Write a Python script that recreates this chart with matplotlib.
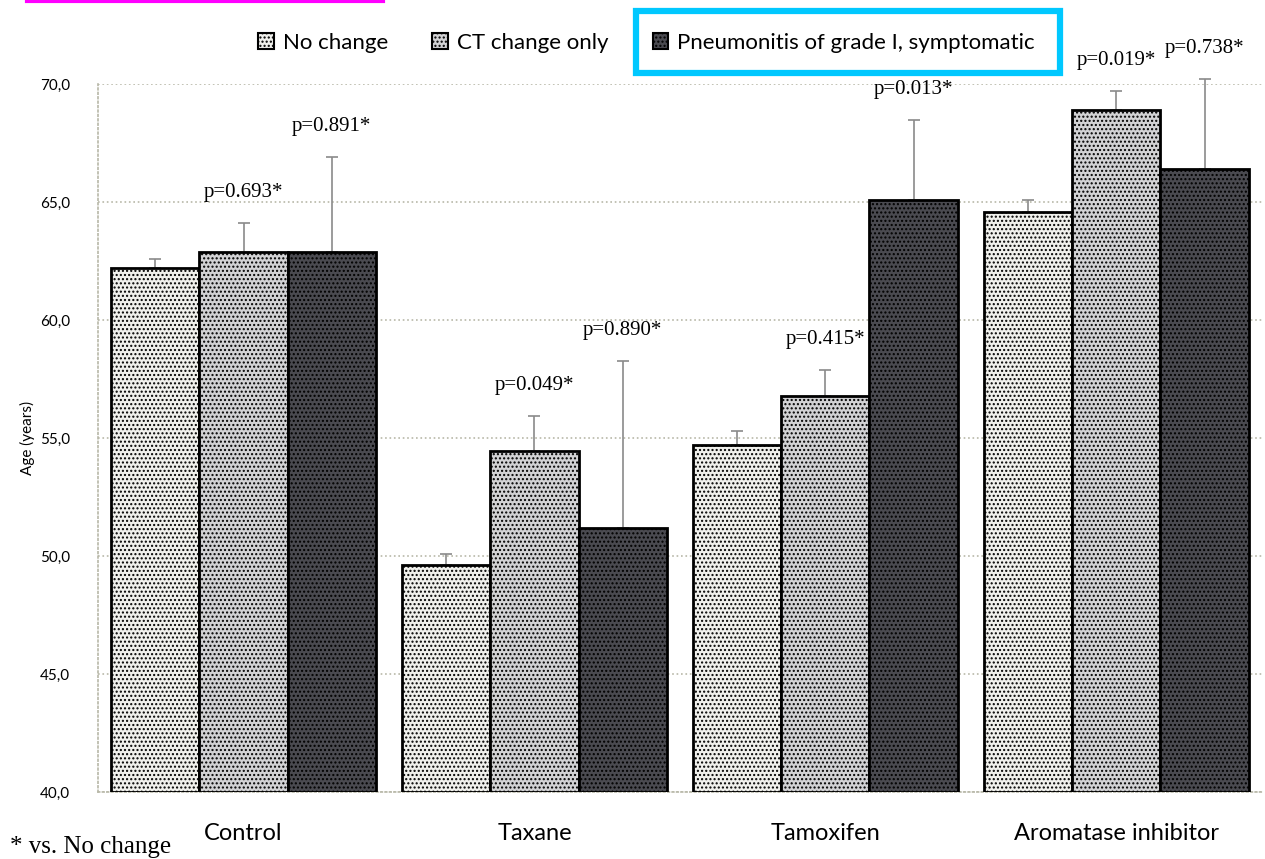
import numpy as np
import matplotlib.pyplot as plt
from matplotlib.patches import Patch, Rectangle
from matplotlib.lines import Line2D

# Du lieu: tuoi trung binh theo nhom dieu tri
groups = ['Control', 'Taxane', 'Tamoxifen', 'Aromatase inhibitor']
series = ['No change', 'CT change only', 'Pneumonitis of grade I, symptomatic']

no_change = [62.2, 49.6, 54.7, 64.6]
no_change_err = [0.4, 0.5, 0.6, 0.5]
ct_change = [62.9, 54.45, 56.8, 68.9]
ct_change_err = [1.2, 1.5, 1.1, 0.8]
pneumonitis = [62.9, 51.2, 65.1, 66.4]
pneumonitis_err = [4.0, 7.05, 3.4, 3.8]

p_ct = ['p=0.693*', 'p=0.049*', 'p=0.415*', 'p=0.019*']
p_pneu = ['p=0.891*', 'p=0.890*', 'p=0.013*', 'p=0.738*']

colors = ['#f0f0ec', '#d2d2d4', '#4a4a50']
hatch_colors = ['#d8d8c8', '#a8a8b0', '#2a2a30']

sans = ['Lato', 'DejaVu Sans']
serif = ['Liberation Serif', 'DejaVu Serif']

fig = plt.figure(figsize=(12.65, 8.59), dpi=100)
ax = fig.add_axes([0.0775, 0.078, 0.92, 0.824])

x = np.arange(len(groups))
w = 0.303
values = [no_change, ct_change, pneumonitis]
errs = [no_change_err, ct_change_err, pneumonitis_err]

for i in range(3):
    xi = x + (i - 1) * w
    plt.rcParams['hatch.color'] = hatch_colors[i]
    ax.bar(xi, np.array(values[i]) - 40, bottom=40, width=w, color=colors[i],
           edgecolor='black', linewidth=2, hatch='....', zorder=3)
    el = ax.errorbar(xi, values[i], yerr=[np.zeros(4), errs[i]], fmt='none',
                     ecolor='#8a8a8a', elinewidth=1.2, capsize=4, capthick=1.2, zorder=2)
    for art in el.get_children():
        art.set_clip_on(False)

# nhan p-value tren dau thanh sai so
for j in range(len(groups)):
    ax.annotate(p_ct[j], (x[j], ct_change[j] + ct_change_err[j]), xytext=(0, 22),
                textcoords='offset points', ha='center', va='center',
                fontsize=15, family=serif, annotation_clip=False)
    ax.annotate(p_pneu[j], (x[j] + w, pneumonitis[j] + pneumonitis_err[j]), xytext=(0, 22),
                textcoords='offset points', ha='center', va='center',
                fontsize=15, family=serif, annotation_clip=False)

ax.set_xlim(-0.5, 3.5)
ax.set_ylim(40, 70)
ax.set_yticks(np.arange(40, 71, 5))
ax.set_yticklabels([f'{v:.1f}'.replace('.', ',') for v in np.arange(40, 71, 5)],
                   fontsize=11, family=sans)
ax.set_xticks(x)
ax.set_xticklabels(groups, fontsize=17, family=sans)
ax.tick_params(axis='x', length=0, pad=22)
ax.tick_params(axis='y', length=0, pad=20)
ax.set_ylabel('Age (years)', fontsize=11, family=sans, labelpad=4)

ax.grid(axis='y', color='#b8b8a8', linestyle=':', linewidth=1.2, zorder=0)
for s in ['top', 'right']:
    ax.spines[s].set_visible(False)
for s in ['left', 'bottom']:
    ax.spines[s].set_linestyle(':')
    ax.spines[s].set_color('#b8b8a8')
    ax.spines[s].set_linewidth(1.2)

# chu giai phia tren
handles = [Patch(facecolor=colors[i], edgecolor='black', hatch='....', linewidth=1.5)
           for i in range(3)]
fig.legend(handles, series, loc='center', bbox_to_anchor=(0.511, 1 - 43 / 859), ncol=3,
           frameon=False, prop={'family': sans, 'size': 16}, handlelength=0.7,
           handleheight=0.7, handletextpad=0.4, columnspacing=2.0)

fig.text(10 / 1265, 1 - 847 / 859, '* vs. No change', fontsize=18, family=serif,
         va='center', ha='left')

# duong vien danh dau
fig.add_artist(Line2D([27 / 1265, 383 / 1265], [1 - 1 / 859, 1 - 1 / 859],
                      color='#ff00ff', linewidth=3, transform=fig.transFigure))
fig.add_artist(Rectangle((636 / 1265, 1 - 73 / 859), 424 / 1265, 62 / 859, fill=False,
                         edgecolor='#00c8ff', linewidth=4.5, transform=fig.transFigure))

fig.savefig('out.png', dpi=100)
